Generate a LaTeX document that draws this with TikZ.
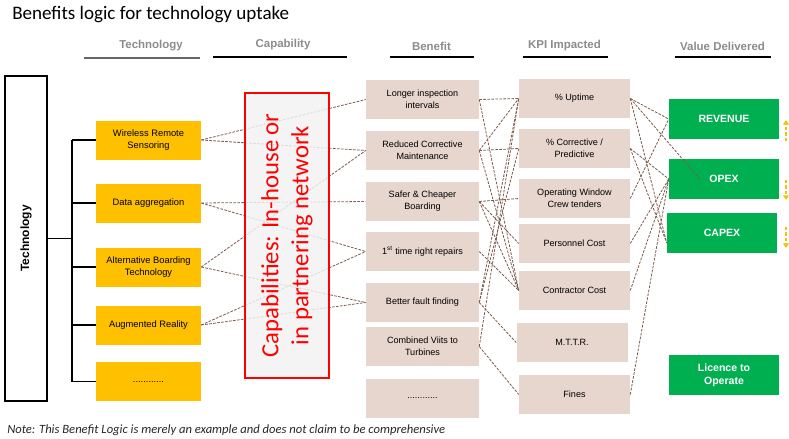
\documentclass[tikz,border=0pt]{standalone}
\usepackage{fontspec}
\setmainfont{Carlito}
\newfontfamily\arialfont{Liberation Sans}
\usepackage{tikz}
\usetikzlibrary{positioning,calc,arrows.meta}
\definecolor{techyellow}{HTML}{FFC000}
\definecolor{benefitpink}{HTML}{E6D6CE}
\definecolor{valuegreen}{HTML}{00B050}
\definecolor{linkbrown}{HTML}{7A5A4A}
\definecolor{headgray}{HTML}{8C8C8C}

\begin{document}
\begin{tikzpicture}[x=0.75pt,y=-0.75pt,
  techbox/.style={fill=techyellow, minimum width=78.75pt, minimum height=29.25pt, align=center, inner sep=0pt, font=\arialfont\fontsize{7}{9}\selectfont},
  benbox/.style={fill=benefitpink, minimum width=84.75pt, minimum height=29.25pt, align=center, inner sep=0pt, font=\arialfont\fontsize{6.8}{9}\selectfont},
  kpibox/.style={benbox, minimum width=83.25pt},
  valbox/.style={fill=valuegreen, text=white, minimum width=82.5pt, minimum height=30pt, align=center, inner sep=0pt, font=\arialfont\bfseries\fontsize{7.9}{10}\selectfont},
  link/.style={linkbrown, dash pattern=on 2pt off 1pt, line width=0.6pt},
  heading/.style={text=headgray, inner sep=0pt, font=\arialfont\bfseries\fontsize{8.6}{10}\selectfont},
  headline/.style={line width=0.8pt},
  updown/.style={techyellow, line width=1.2pt, dash pattern=on 2.5pt off 1.5pt, -{Triangle[length=3.5pt,width=4.5pt]}},
]
\useasboundingbox (0,0) rectangle (789,439);

% title and column headings
\node[anchor=west, inner sep=0pt, font=\fontsize{14.3}{16}\selectfont] (title) at (12,15) {Benefits logic for technology uptake};
\node[heading] (htech) at (151,46) {Technology};
\node[heading] (hcap) at (283,45) {Capability};
\node[heading] (hben) at (431.5,46) {Benefit};
\node[heading] (hkpi) at (564.5,46) {KPI Impacted};
\node[heading] (hval) at (722.5,46) {Value Delivered};
\draw[headline, black!60] (84,58) -- (200,58);
\draw[headline] (213,57) -- (347,57);
\draw[headline] (390,57) -- (474,57);
\draw[headline] (523,57) -- (608,57);
\draw[headline] (675,57) -- (771,57);

% technology tree
\node[draw, fill=white, line width=0.8pt, minimum width=31.5pt, minimum height=243.75pt] (tech) at (26,238.5) {};
\node[rotate=90, font=\arialfont\bfseries\fontsize{9}{11}\selectfont] (techlabel) at (tech.center) {Technology};
\node[techbox] (wrs) at (148.5,140) {Wireless Remote\\Sensoring};
\node[techbox] (dag) at (148.5,203) {Data aggregation};
\node[techbox] (abt) at (148.5,267) {Alternative Boarding\\Technology};
\node[techbox] (aug) at (148.5,325) {Augmented Reality};
\node[techbox] (tdots) at (148.5,381.5) {............};
\coordinate (tree) at (72,238.5);
\draw[line width=0.8pt] (tech.east) -- (tree);
\draw[line width=0.8pt] (tree |- wrs.west) -- (tree |- tdots.west);
\foreach \t in {wrs,dag,abt,aug,tdots}
  \draw[line width=0.8pt] (tree |- \t.west) -- (\t.west);

% benefits
\node[benbox] (lii) at (422.5,99.5) {Longer inspection\\intervals};
\node[benbox] (rcm) at (422.5,150.5) {Reduced Corrective\\Maintenance};
\node[benbox] (scb) at (422.5,201.5) {Safer \& Cheaper\\Boarding};
\node[benbox] (ftr) at (422.5,251.5) {1\textsuperscript{st} time right repairs};
\node[benbox] (bff) at (422.5,302.5) {Better fault finding};
\node[benbox] (cvt) at (422.5,346.5) {Combined Viits to\\Turbines};
\node[benbox] (bdots) at (422.5,398.5) {............};

% KPIs
\node[kpibox] (upt) at (574.5,98.5) {\% Uptime};
\node[kpibox] (cor) at (574.5,148.5) {\% Corrective /\\Predictive};
\node[kpibox] (opw) at (574.5,198.5) {Operating Window\\Crew tenders};
\node[kpibox] (per) at (574.5,243.5) {Personnel Cost};
\node[kpibox] (ctr) at (574.5,290.5) {Contractor Cost};
\node[kpibox] (mttr) at (572,342.5) {M.T.T.R.};
\node[kpibox] (fin) at (574.5,394.5) {Fines};

% value delivered
\node[valbox] (rev) at (724,119) {REVENUE};
\node[valbox] (opex) at (724,179) {OPEX};
\node[valbox] (capex) at (722,233) {CAPEX};
\node[valbox] (lto) at (724,375) {Licence to\\Operate};
\coordinate (revup) at (786,120);
\coordinate (revlow) at (786,141);
\coordinate (opexup) at (786,180);
\coordinate (opexlow) at (786,200);
\coordinate (capexup) at (786,227);
\coordinate (capexlow) at (786,248);
\draw[updown] (revlow) -- (revup);
\draw[updown] (opexup) -- (opexlow);
\draw[updown] (capexup) -- (capexlow);

% links
\foreach \a/\b in {wrs/lii,wrs/rcm,dag/scb,dag/ftr,abt/rcm,abt/bff,aug/ftr,aug/bff,
  lii/upt,lii/ctr,rcm/upt,rcm/cor,rcm/ctr,scb/opw,scb/per,scb/ctr,ftr/ctr,
  bff/upt,bff/cor,bff/mttr,cvt/upt,cvt/fin,
  upt/rev,cor/opex,opw/rev,per/opex,ctr/opex,fin/opex}
  \draw[link] (\a.east) -- (\b.west);
\draw[link] (upt.east) -- ($(opex.west)+(31,0)$);
\draw[link] (upt.east) -- ($(capex.west)+(0,10)$);
\draw[link] (cor.east) -- ($(capex.west)+(0,10)$);

% capability band on top of the links
\node[draw=red, line width=0.8pt, fill=black!5, fill opacity=0.85, text opacity=1, text=red, rotate=90,
  minimum width=213.75pt, minimum height=63pt, align=center, inner sep=0pt,
  font=\fontsize{18.5}{22.5}\selectfont] (cap) at (287,235.5) {Capabilities: In-house or\\in partnering network};

\node[anchor=west, inner sep=0pt, text=black!85, font=\itshape\fontsize{9.45}{11}\selectfont] (note) at (7,430)
  {Note: This Benefit Logic is merely an example and does not claim to be comprehensive};
\end{tikzpicture}
\end{document}
